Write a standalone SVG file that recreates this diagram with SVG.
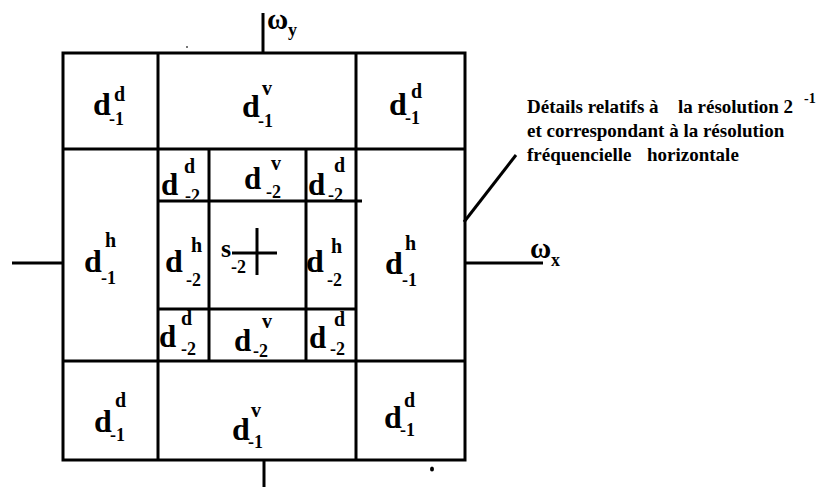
<svg xmlns="http://www.w3.org/2000/svg" width="828" height="489" viewBox="0 0 828 489">
  <style>
    text { font-family: "Liberation Serif", "DejaVu Serif", "Times New Roman", serif; font-weight: bold; fill: #000; }
    .d { font-size: 32px; }
    .di { font-size: 31px; }
    .sup { font-size: 20px; }
    .sub { font-size: 18px; }
    .s { font-size: 26px; }
    .note { font-size: 19px; }
    .note-exp { font-size: 14px; }
    .axis-label { font-size: 29px; }
    .axis-sub { font-size: 18px; }
    .grid line, .grid rect { stroke: #000; stroke-width: 3; fill: none; }
    .conn line { stroke: #000; stroke-width: 3; }
    .leader { stroke: #000; stroke-width: 2.5; }
  </style>

  <rect width="828" height="489" fill="#fff"/>

  <!-- level -1 detail cells -->
  <g id="d1-top-left"><text class="d" x="93" y="115">d</text><text class="sup" x="114" y="101">d</text><text class="sub" x="109" y="125">-1</text></g>
  <g id="d1-top-mid"><text class="d" x="242" y="117">d</text><text class="sup" x="262" y="95">v</text><text class="sub" x="258" y="127">-1</text></g>
  <g id="d1-top-right"><text class="d" x="389" y="115">d</text><text class="sup" x="411" y="98">d</text><text class="sub" x="405" y="124">-1</text></g>
  <g id="d1-mid-left"><text class="d" x="84" y="272">d</text><text class="sup" x="105" y="247">h</text><text class="sub" x="101" y="284">-1</text></g>
  <g id="d1-mid-right"><text class="d" x="385" y="274">d</text><text class="sup" x="405" y="250">h</text><text class="sub" x="402" y="286">-1</text></g>
  <g id="d1-bot-left"><text class="d" x="94" y="432">d</text><text class="sup" x="115" y="407">d</text><text class="sub" x="110" y="441">-1</text></g>
  <g id="d1-bot-mid"><text class="d" x="232" y="440">d</text><text class="sup" x="251" y="417">v</text><text class="sub" x="248" y="448">-1</text></g>
  <g id="d1-bot-right"><text class="d" x="384" y="428">d</text><text class="sup" x="404" y="407">d</text><text class="sub" x="400" y="436">-1</text></g>

  <!-- level -2 detail cells -->
  <g id="d2-top-left"><text class="di" x="161" y="195">d</text><text class="sup" x="184" y="173">d</text><text class="sub" x="185" y="202">-2</text></g>
  <g id="d2-top-mid"><text class="di" x="244" y="189">d</text><text class="sup" x="271" y="170">v</text><text class="sub" x="266" y="198">-2</text></g>
  <g id="d2-top-right"><text class="di" x="308" y="195">d</text><text class="sup" x="334" y="172">d</text><text class="sub" x="328" y="201">-2</text></g>
  <g id="d2-mid-left"><text class="d" x="165" y="272">d</text><text class="sup" x="191" y="252">h</text><text class="sub" x="186" y="286">-2</text></g>
  <g id="s2-center"><text class="s" x="221" y="257">s</text><text class="sub" x="231" y="273">-2</text></g>
  <g id="d2-mid-right"><text class="d" x="306" y="272">d</text><text class="sup" x="331" y="253">h</text><text class="sub" x="327" y="286">-2</text></g>
  <g id="d2-bot-left"><text class="di" x="159" y="347">d</text><text class="sup" x="181" y="325">d</text><text class="sub" x="181" y="355">-2</text></g>
  <g id="d2-bot-mid"><text class="di" x="234" y="351">d</text><text class="sup" x="262" y="328">v</text><text class="sub" x="253" y="357">-2</text></g>
  <g id="d2-bot-right"><text class="di" x="309" y="348">d</text><text class="sup" x="334" y="326">d</text><text class="sub" x="330" y="355">-2</text></g>

  <!-- partition grid -->
  <g class="grid" id="grid">
    <rect x="63" y="53" width="402" height="407"/>
    <line x1="63" y1="149" x2="465" y2="149"/>
    <line x1="63" y1="361" x2="465" y2="361"/>
    <line x1="158" y1="53" x2="158" y2="460"/>
    <line x1="356" y1="53" x2="356" y2="460"/>
    <line x1="209" y1="149" x2="209" y2="361"/>
    <line x1="306" y1="149" x2="306" y2="361"/>
    <line x1="158" y1="201" x2="362" y2="201"/>
    <line x1="158" y1="309" x2="356" y2="309"/>
    <!-- small cross at the origin of the s cell -->
    <line x1="232" y1="253" x2="277" y2="253"/>
    <line x1="257" y1="228" x2="257" y2="275"/>
  </g>

  <!-- frequency axes and pointer -->
  <g class="conn" id="connectors">
    <line x1="263" y1="13" x2="263" y2="53"/>
    <line x1="264" y1="460" x2="264" y2="487"/>
    <line x1="12" y1="263" x2="63" y2="263"/>
    <line x1="465" y1="263" x2="543" y2="263"/>
    <line class="leader" x1="516" y1="155" x2="464" y2="222"/>
  </g>

  <g id="axis-wy"><text class="axis-label" x="267" y="29">ω</text><text class="axis-sub" x="288" y="36">y</text></g>
  <g id="axis-wx"><text class="axis-label" x="530" y="258">ω</text><text class="axis-sub" x="551" y="266">x</text></g>

  <!-- annotation -->
  <g id="note">
    <text class="note" x="527" y="113">Détails relatifs à</text>
    <text class="note" x="678" y="113">la résolution 2</text>
    <text class="note-exp" x="804" y="103">-1</text>
    <text class="note" x="527" y="137">et correspondant à la résolution</text>
    <text class="note" x="527" y="161">fréquencielle</text>
    <text class="note" x="647" y="161">horizontale</text>
  </g>

  <!-- specks -->
  <ellipse cx="187" cy="47" rx="1" ry="0.8" fill="#000"/>
  <ellipse cx="432" cy="469" rx="2" ry="2.5" fill="#000"/>
</svg>
